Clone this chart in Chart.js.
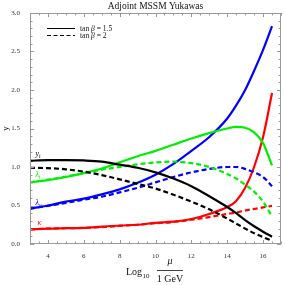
<!DOCTYPE html>
<html>
<head>
<meta charset="utf-8">
<script src="https://cdn.jsdelivr.net/npm/chart.js@4.4.1/dist/chart.umd.min.js"></script>
<style>
  html, body { margin: 0; padding: 0; background: #fff; }
  #wrap { width: 285px; height: 285px; }
</style>
</head>
<body>
<div id="wrap"><canvas id="yukawaChart" width="285" height="285"></canvas></div>
<script>
// --- data ---
const muLog = [3, 4, 5, 6, 7, 8, 9, 10, 11, 12, 13, 14, 14.5, 15, 15.5, 16, 16.5];

const ytSolid   = [1.08, 1.09, 1.09, 1.085, 1.07, 1.03, 0.99, 0.93, 0.85, 0.75, 0.62, 0.48, 0.40, 0.31, 0.23, 0.16, 0.095];
const ytDashed  = [0.99, 0.985, 0.97, 0.94, 0.895, 0.84, 0.78, 0.72, 0.64, 0.55, 0.45, 0.33, 0.265, 0.20, 0.14, 0.09, 0.04];
const ltSolid   = [0.80, 0.83, 0.87, 0.92, 0.98, 1.06, 1.14, 1.21, 1.29, 1.37, 1.44, 1.50, 1.52, 1.51, 1.45, 1.31, 1.02];
const ltDashed  = [0.80, 0.835, 0.875, 0.92, 0.965, 1.0, 1.035, 1.06, 1.07, 1.05, 1.0, 0.91, 0.85, 0.77, 0.68, 0.55, 0.36];
const lmuSolid  = [0.46, 0.50, 0.55, 0.59, 0.645, 0.71, 0.795, 0.90, 1.04, 1.21, 1.39, 1.63, 1.80, 2.00, 2.25, 2.52, 2.83];
const lmuDashed = [0.46, 0.495, 0.535, 0.575, 0.615, 0.67, 0.73, 0.80, 0.87, 0.93, 0.975, 1.0, 1.0, 0.975, 0.93, 0.87, 0.75];
const kSolid    = [0.19, 0.20, 0.205, 0.21, 0.225, 0.24, 0.25, 0.275, 0.29, 0.325, 0.39, 0.48, 0.56, 0.73, 1.0, 1.39, 1.96];
const kDashed   = [0.19, 0.20, 0.205, 0.21, 0.22, 0.235, 0.25, 0.27, 0.285, 0.315, 0.35, 0.39, 0.41, 0.435, 0.455, 0.475, 0.495];

const xTicks = [4, 6, 8, 10, 12, 14, 16];
const yTicks = [0, 0.5, 1.0, 1.5, 2.0, 2.5, 3.0];

const SERIF = '"Liberation Serif", "DejaVu Serif", serif';
const GREEN = '#00ee00';

const pts = (arr) => muLog.map((x, i) => ({ x: x, y: arr[i] }));

function serie(label, arr, color, dashed) {
    return {
        label: label, data: pts(arr), borderColor: color, backgroundColor: color,
        borderWidth: 2.2, borderDash: dashed ? [5, 3] : [], pointRadius: 0,
        fill: false, cubicInterpolationMode: 'monotone'
    };
}

// texto com subscrito, desenhado no canvas
function subText(ctx, main, sub, x, y, size, color, italicMain) {
    ctx.fillStyle = color;
    ctx.textAlign = 'left';
    ctx.textBaseline = 'alphabetic';
    ctx.font = (italicMain ? 'italic ' : '') + size + 'px ' + SERIF;
    ctx.fillText(main, x, y);
    const w = ctx.measureText(main).width;
    ctx.font = 'italic ' + (size * 0.7) + 'px ' + SERIF;
    ctx.fillText(sub, x + w, y + size * 0.25);
}

const decoPlugin = {
    id: 'deco',
    afterDraw(chart) {
        const { ctx, chartArea: a, scales } = chart;
        const sx = scales.x, sy = scales.y;
        ctx.save();

        // moldura + ticks para dentro
        ctx.strokeStyle = '#9a9a9a';
        ctx.lineWidth = 1;
        ctx.strokeRect(a.left + 0.5, a.top + 0.5, a.right - a.left - 1, a.bottom - a.top - 1);
        ctx.beginPath();
        for (let v = 3; v <= 17.001; v += 0.5) {
            const px = Math.round(sx.getPixelForValue(v)) + 0.5;
            const len = (Math.abs(v % 2) < 1e-6) ? 4 : 2.5;
            ctx.moveTo(px, a.bottom); ctx.lineTo(px, a.bottom - len);
            ctx.moveTo(px, a.top); ctx.lineTo(px, a.top + len);
        }
        for (let i = 0; i <= 30; i++) {
            const v = i / 10;
            const py = Math.round(sy.getPixelForValue(v)) + 0.5;
            const len = (i % 5 === 0) ? 4 : 2.5;
            ctx.moveTo(a.left, py); ctx.lineTo(a.left + len, py);
            ctx.moveTo(a.right, py); ctx.lineTo(a.right - len, py);
        }
        ctx.stroke();

        // título
        ctx.fillStyle = '#111';
        ctx.font = '9.5px ' + SERIF;
        ctx.textAlign = 'center';
        ctx.textBaseline = 'alphabetic';
        ctx.fillText('Adjoint MSSM Yukawas', (a.left + a.right) / 2, 9);

        // legenda
        const lx0 = 47, lx1 = 75;
        ctx.strokeStyle = '#000';
        ctx.lineWidth = 1;
        ctx.beginPath(); ctx.moveTo(lx0, 28.5); ctx.lineTo(lx1, 28.5); ctx.stroke();
        ctx.setLineDash([4, 2.5]);
        ctx.beginPath(); ctx.moveTo(lx0, 35.5); ctx.lineTo(lx1, 35.5); ctx.stroke();
        ctx.setLineDash([]);
        const legendTxt = (yy, val) => {
            ctx.textAlign = 'left';
            ctx.fillStyle = '#111';
            ctx.font = '7.5px ' + SERIF;
            let x = 80;
            ctx.fillText('tan ', x, yy); x += ctx.measureText('tan ').width;
            ctx.font = 'italic 7.5px ' + SERIF;
            ctx.fillText('\u03B2', x, yy); x += ctx.measureText('\u03B2').width;
            ctx.font = '7.5px ' + SERIF;
            ctx.fillText(' = ' + val, x, yy);
        };
        legendTxt(31, '1.5');
        legendTxt(38, '2');

        // rótulos das curvas
        const lx = sx.getPixelForValue(3.3);
        subText(ctx, 'y', 't', lx, sy.getPixelForValue(ytSolid[0]) - 5, 8, '#000', true);
        subText(ctx, '\u03BB', 't', lx, sy.getPixelForValue(ltSolid[0]) - 5, 8, GREEN, true);
        subText(ctx, '\u03BB', '\u03BC', lx, sy.getPixelForValue(lmuSolid[0]) - 4, 8, '#0000ff', true);
        ctx.fillStyle = '#ff0000';
        ctx.font = 'italic 8px ' + SERIF;
        ctx.fillText('\u03BA', lx + 2, sy.getPixelForValue(kSolid[0]) - 4);

        // título do eixo x: Log10 mu / 1 GeV
        ctx.fillStyle = '#111';
        ctx.textAlign = 'left';
        ctx.font = '10px ' + SERIF;
        ctx.fillText('Log', 126, 275);
        let w = ctx.measureText('Log').width;
        ctx.font = '7px ' + SERIF;
        ctx.fillText('10', 126 + w + 0.5, 278);
        const fx0 = 157, fx1 = 183, fc = (fx0 + fx1) / 2;
        ctx.strokeStyle = '#111';
        ctx.lineWidth = 0.8;
        ctx.beginPath(); ctx.moveTo(fx0, 270.5); ctx.lineTo(fx1, 270.5); ctx.stroke();
        ctx.textAlign = 'center';
        ctx.font = 'italic 10px ' + SERIF;
        ctx.fillText('\u03BC', fc, 264);
        ctx.font = '10px ' + SERIF;
        ctx.fillText('1 GeV', fc, 282);

        ctx.restore();
    }
};

const ctx = document.getElementById('yukawaChart').getContext('2d');
new Chart(ctx, {
    type: 'line',
    data: {
        datasets: [
            serie('yt 1.5', ytSolid, '#000000', false),
            serie('yt 2', ytDashed, '#000000', true),
            serie('lt 1.5', ltSolid, GREEN, false),
            serie('lt 2', ltDashed, GREEN, true),
            serie('lmu 1.5', lmuSolid, '#0000ff', false),
            serie('lmu 2', lmuDashed, '#0000ff', true),
            serie('k 1.5', kSolid, '#ff0000', false),
            serie('k 2', kDashed, '#ff0000', true)
        ]
    },
    options: {
        responsive: false, animation: false,
        layout: { padding: { top: 13, right: 4, left: 0, bottom: 0 } },
        plugins: { legend: { display: false }, tooltip: { enabled: false }, title: { display: false } },
        scales: {
            x: {
                type: 'linear', min: 3, max: 17,
                grid: { display: false }, border: { display: false },
                afterBuildTicks: (s) => { s.ticks = xTicks.map(v => ({ value: v })); },
                afterFit: (s) => { s.height = 41; },
                ticks: { color: '#333', font: { family: SERIF, size: 7 }, padding: 0, maxRotation: 0, autoSkip: false }
            },
            y: {
                type: 'linear', min: 0, max: 3,
                grid: { display: false }, border: { display: false },
                afterBuildTicks: (s) => { s.ticks = yTicks.map(v => ({ value: v })); },
                afterFit: (s) => { s.width = 30; },
                title: { display: true, text: 'y', color: '#111', font: { family: SERIF, size: 9 }, padding: 0 },
                ticks: {
                    color: '#333', font: { family: SERIF, size: 7 }, padding: 2,
                    callback: (v) => Number(v).toFixed(1)
                }
            }
        }
    },
    plugins: [decoPlugin]
});
</script>
</body>
</html>
